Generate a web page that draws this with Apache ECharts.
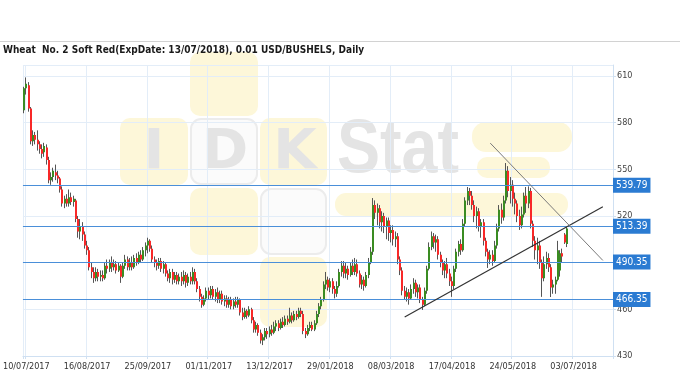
<!DOCTYPE html>
<html><head><meta charset="utf-8">
<script src="https://cdn.jsdelivr.net/npm/echarts@6/dist/echarts.min.js"></script>
<style>html,body{margin:0;padding:0;background:#fff}#c{width:680px;height:380px}</style>
</head><body><div id="c"></div>
<script>
const titleText = 'Wheat  No. 2 Soft Red(ExpDate: 13/07/2018), 0.01 USD/BUSHELS, Daily';
const tickLabels = ['10/07/2017','16/08/2017','25/09/2017','01/11/2017','13/12/2017','29/01/2018','08/03/2018','17/04/2018','24/05/2018','03/07/2018'];
const firstLabelIndex = 1, labelStep = 27, categoryCount = 262;

const openP = [588,602,604,589,568,572,569,566,563,561,564,556,543,545,548,546,544,537,528,531,528,532,529,530,518,510,513,508,501,498,
487,484,480,484,481,482,480,488,486,490,487,489,485,488,481,488,492,487,490,487,493,490,495,492,498,501,504,499,492,490,
488,491,486,489,483,480,484,479,482,478,481,478,482,477,481,478,484,478,473,468,463,467,472,469,473,468,471,466,470,465,
467,463,466,462,465,463,466,458,455,459,456,460,453,447,450,445,440,442,446,444,447,445,449,451,448,452,450,454,452,456,
453,457,455,459,457,446,444,448,450,447,451,457,462,466,476,479,474,478,473,470,475,484,488,483,486,482,488,484,489,483,
476,479,475,482,490,497,527,522,525,516,520,513,517,509,511,505,507,492,485,472,468,471,467,473,477,471,474,466,463,472,
486,500,507,503,505,495,490,485,489,483,478,475,486,497,502,498,515,530,536,533,527,520,523,513,516,504,497,492,495,491,
501,512,524,519,530,549,536,540,531,528,520,514,521,533,528,536,515,504,498,501,490,480,489,493,487,474,476,479,485,496,
508,502];
const closeP = [602,605,589,568,572,569,566,563,560,565,556,543,545,549,546,544,537,528,531,528,532,529,531,518,510,513,508,501,498,487,
484,480,484,481,482,480,488,486,490,487,489,485,488,481,488,492,487,490,487,493,490,495,492,498,501,504,499,492,490,488,
491,486,489,483,480,484,479,482,478,481,478,482,477,481,478,484,478,473,468,463,467,472,469,473,468,471,466,470,465,467,
463,466,462,465,463,466,458,455,459,456,460,453,447,450,445,440,442,446,444,447,445,449,451,448,452,450,454,452,456,453,
457,455,459,457,446,444,448,450,447,451,457,462,466,476,479,474,478,473,470,475,484,488,483,486,482,488,484,489,483,476,
479,475,482,490,497,527,522,525,516,520,513,517,509,511,505,507,492,485,472,468,471,467,473,477,471,474,466,463,472,486,
500,507,503,505,495,490,485,489,483,478,475,486,497,502,498,515,530,536,533,527,520,523,513,516,504,497,492,495,491,501,
512,524,519,530,549,536,540,531,528,520,514,521,533,528,536,515,504,498,501,490,480,489,493,487,474,476,479,498,496,494,
503,512];
const lowP = [586,598,587,566,565,566,562,560,557,558,553,541,540,542,543,541,535,526,525,526,526,527,526,516,506,505,504,499,495,485,
480,477,478,478,478,478,479,483,484,484,485,483,484,477,480,486,485,485,485,486,488,489,490,491,494,496,497,490,487,485,
486,484,483,481,478,477,476,477,476,476,475,476,474,475,476,476,476,471,465,461,462,465,466,467,466,465,464,464,463,462,
461,461,460,460,461,461,456,453,454,454,455,451,445,445,443,438,437,440,441,442,443,444,446,446,447,448,449,450,451,451,
452,453,454,455,444,441.5,443,446,446,446,450,455,460,465,473,472,471,470,467,468,474,481,480,480,479,481,482,482,481,474,
473,472,474,480,489,495,518,514,512,510,509,505,504,503,501,500,489,482,469,466,465,463,466,470,468,467,464,459.6,462,470,
485,498,499,497,492,487,482,480,480,475,468,473,484,494,495,497,513,527,527,524,516,512,510,506,501,494,486.6,489,488,490,
499,510,515,517,528,532,528,526,521,516,511,512,519,522,525,512,500,492,489,486,468,478,486,484,467.9,470,470,478,481,490,
502,500];
const highP = [603,609,606,590,575,574,575,568,566,567,566,558,548,551,553,549,545,539,533,534,537,535,533,531,520,518,516,510,504,500,
490,487,487,486,485,485,490,492,492,494,492,491,490,489,490,495,494,493,494,495,496,497,498,500,503,506,505,501,494,492,
493,493,491,490,485,486,486,484,484,483,484,485,484,483,484,487,486,480,475,470,469,474,474,475,475,473,474,472,472,469,
469,468,468,467,468,468,467,461,461,460,462,461,455,452,451,447,444,448,448,449,450,452,453,453,454,455,456,456,461,458,
459,459,461,461,459,448,450,452,452,453,459,464,468,478,484,481,480,480,475,478,486,491,491,490,488,490,492,493,492,485,
482,481,484,493,500,531.5,530,528,527,523,522,519,519,514,514,510,509,494,487,475,474,473,476,480,479,476,476,468,474,488,
503,510,509,508,507,497,492,491,493,486,481,488,499,504,505,518,532,538.6,538,536,530,526,525,518,518,506,499,498,498,504,
515,527,528,533,554,552,545,543,535,530,524,526,535,538.6,539,538,517,507,506,504,492,494,497,496,489,479,481,504,498,499,
509,513.5];

const levels = [539.79, 513.39, 490.35, 466.35];
const supportLine = [[169, 455.0], [257, 525.9]];
const resistanceLine = [[207, 566.8], [257, 491.4]];

const categories = [];
(function () {
  const d = new Date(Date.UTC(2017, 6, 7));
  while (categories.length < categoryCount) {
    const wd = d.getUTCDay();
    if (wd !== 0 && wd !== 6) {
      const dd = String(d.getUTCDate()).padStart(2, '0');
      const mm = String(d.getUTCMonth() + 1).padStart(2, '0');
      categories.push(dd + '/' + mm + '/' + d.getUTCFullYear());
    }
    d.setUTCDate(d.getUTCDate() + 1);
  }
})();

const candles = openP.map((o, i) => [i, o, closeP[i], lowP[i], highP[i]]);
const UP = '#3a8c22', DOWN = '#f82828', WICK = '#555555';
const FONT = '"DejaVu Sans Condensed", "DejaVu Sans", sans-serif';
const GRIDC = '#e3edf8', AXISC = '#cfe0f2';
const isLabelIdx = (idx) => idx >= firstLabelIndex && (idx - firstLabelIndex) % labelStep === 0;

const chart = echarts.init(document.getElementById('c'), null, {renderer: 'canvas'});
const wmY = '#fdf7d9', wmW = '#fbfbfb', wmB = '#ececec', wmT = '#e4e4e4';
chart.setOption({
  animation: false,
  backgroundColor: '#ffffff',
  title: {
    text: titleText, left: 3, top: 45, padding: 0,
    textStyle: {fontSize: 10, fontWeight: 'bold', fontFamily: FONT, color: '#1a1a1a'}
  },
  graphic: [
    {type: 'line', z: -5, shape: {x1: 0, y1: 41.5, x2: 680, y2: 41.5}, style: {stroke: '#d2d2d2', lineWidth: 1}},
    {type: 'rect', z: -5, shape: {x: 190, y: 52, width: 68, height: 64, r: 10}, style: {fill: wmY}},
    {type: 'rect', z: -5, shape: {x: 120, y: 118, width: 68, height: 67, r: 10}, style: {fill: wmY}},
    {type: 'rect', z: -5, shape: {x: 191, y: 119, width: 66, height: 65, r: 10}, style: {fill: wmW, stroke: wmB, lineWidth: 2}},
    {type: 'rect', z: -5, shape: {x: 260, y: 118, width: 67, height: 67, r: 10}, style: {fill: wmY}},
    {type: 'rect', z: -5, shape: {x: 190, y: 188, width: 68, height: 67, r: 10}, style: {fill: wmY}},
    {type: 'rect', z: -5, shape: {x: 261, y: 189, width: 65, height: 65, r: 10}, style: {fill: wmW, stroke: wmB, lineWidth: 2}},
    {type: 'rect', z: -5, shape: {x: 260, y: 257, width: 67, height: 70, r: 10}, style: {fill: wmY}},
    {type: 'rect', z: -5, shape: {x: 472, y: 122, width: 100, height: 30, r: 14}, style: {fill: wmY}},
    {type: 'rect', z: -5, shape: {x: 477, y: 157, width: 73, height: 21, r: 10}, style: {fill: wmY}},
    {type: 'rect', z: -5, shape: {x: 335, y: 193, width: 233, height: 23, r: 11}, style: {fill: wmY}},
    {type: 'text', z: -4, style: {text: 'I', x: 154, y: 153, font: 'bold 56px "DejaVu Sans"', fill: wmT, align: 'center', verticalAlign: 'middle'}},
    {type: 'text', z: -4, style: {text: 'D', x: 225, y: 153, font: 'bold 56px "DejaVu Sans"', fill: wmT, align: 'center', verticalAlign: 'middle'}},
    {type: 'text', z: -4, style: {text: 'K', x: 295, y: 153, font: 'bold 56px "DejaVu Sans"', fill: wmT, align: 'center', verticalAlign: 'middle'}},
    {type: 'text', z: -4, x: 337, y: 151, scaleX: 0.85, style: {text: 'Stat', x: 0, y: 0, font: 'bold 76px "Liberation Sans"', fill: wmT, align: 'left', verticalAlign: 'middle'}}
  ],
  grid: {left: 22, right: 67, top: 65, bottom: 24, containLabel: false},
  xAxis: {
    type: 'category', data: categories, boundaryGap: true,
    axisLine: {show: true, lineStyle: {color: AXISC}},
    axisTick: {show: true, length: 3, interval: (i) => i === 0 || isLabelIdx(i), lineStyle: {color: AXISC}},
    axisLabel: {
      interval: (i) => isLabelIdx(i),
      formatter: (v, i) => tickLabels[(i - firstLabelIndex) / labelStep] || '',
      color: '#333', fontSize: 9, fontFamily: FONT, margin: 6
    },
    splitLine: {show: true, interval: (i) => i === 0 || isLabelIdx(i), lineStyle: {color: GRIDC, width: 1}}
  },
  yAxis: {
    type: 'value', position: 'right', min: 430, max: 617, interval: 30, scale: true,
    axisLine: {show: true, lineStyle: {color: AXISC}},
    axisTick: {show: true, length: 3, lineStyle: {color: AXISC}},
    axisLabel: {color: '#444', fontSize: 9, fontFamily: FONT, margin: 4, showMaxLabel: false},
    splitLine: {show: true, lineStyle: {color: GRIDC, width: 1}}
  },
  series: [{
    type: 'custom',
    clip: true,
    encode: {x: 0, y: [1, 2, 3, 4]},
    data: candles,
    renderItem: function (params, api) {
      const x = api.value(0), o = api.value(1), c = api.value(2), l = api.value(3), h = api.value(4);
      const pO = api.coord([x, o]), pC = api.coord([x, c]), pL = api.coord([x, l]), pH = api.coord([x, h]);
      const cx = Math.round(pO[0]) - 1;
      const top = Math.min(pO[1], pC[1]), bot = Math.max(pO[1], pC[1]);
      return {
        type: 'group',
        children: [
          {type: 'line', shape: {x1: cx + 0.5, y1: pH[1], x2: cx + 0.5, y2: pL[1]}, style: {stroke: WICK, lineWidth: 1}},
          {type: 'rect', shape: {x: cx, y: top, width: 2, height: Math.max(bot - top, 1)}, style: {fill: c >= o ? UP : DOWN}}
        ]
      };
    },
    markLine: {
      silent: true, symbol: ['none', 'none'], animation: false,
      data: levels.map(v => ({
        yAxis: v,
        lineStyle: {color: '#4a8fd9', width: 1, type: 'solid'},
        label: {show: true, position: 'end', distance: 0, formatter: v.toFixed(2),
          backgroundColor: '#2b7bd2', color: '#ffffff', padding: [3, 3, 2, 3],
          fontSize: 10, fontFamily: FONT}
      })).concat([
        [{coord: supportLine[0], lineStyle: {color: '#333333', width: 1.2, type: 'solid'}, label: {show: false}}, {coord: supportLine[1]}],
        [{coord: resistanceLine[0], lineStyle: {color: '#7a7a7a', width: 1, type: 'solid'}, label: {show: false}}, {coord: resistanceLine[1]}]
      ])
    }
  }]
});
</script>
</body></html>
